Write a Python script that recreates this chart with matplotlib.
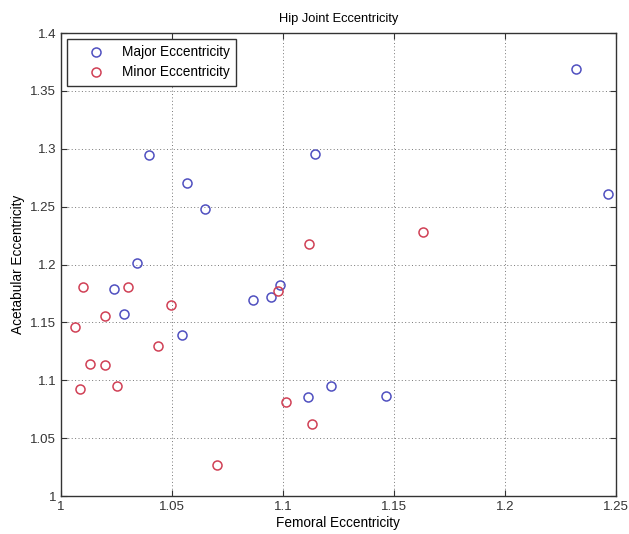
import matplotlib
matplotlib.use("Agg")
import matplotlib.pyplot as plt

plt.rcParams['font.family'] = ['Liberation Sans', 'DejaVu Sans']

major_x = [1.2322, 1.2466, 1.0396, 1.0567, 1.0648, 1.0342, 1.1146, 1.0239, 1.0285,
           1.0543, 1.0863, 1.0945, 1.0989, 1.1113, 1.1215, 1.1463]
major_y = [1.369, 1.261, 1.2946, 1.2705, 1.248, 1.2014, 1.2958, 1.1787, 1.157,
           1.1392, 1.1697, 1.1718, 1.1824, 1.0854, 1.0952, 1.0865]

minor_x = [1.1118, 1.1629, 1.0098, 1.0300, 1.0197, 1.0062, 1.0495, 1.0437, 1.0129,
           1.0197, 1.0084, 1.0251, 1.0705, 1.0978, 1.1014, 1.1131]
minor_y = [1.218, 1.2279, 1.1804, 1.1804, 1.1559, 1.1464, 1.1649, 1.130, 1.1139,
           1.113, 1.0923, 1.0952, 1.0272, 1.1775, 1.0816, 1.0621]

xticks = [1, 1.05, 1.1, 1.15, 1.2, 1.25]
xticklabels = ['1', '1.05', '1.1', '1.15', '1.2', '1.25']
yticks = [1, 1.05, 1.1, 1.15, 1.2, 1.25, 1.3, 1.35, 1.4]
yticklabels = ['1', '1.05', '1.1', '1.15', '1.2', '1.25', '1.3', '1.35', '1.4']

fig = plt.figure(figsize=(6.29, 5.34), dpi=100)
ax = fig.add_axes([0.097, 0.071, 0.882, 0.867])

ax.plot(major_x, major_y, 'o', mfc='none', mec='#5050c0', mew=1.1, ms=6.5,
        label='Major Eccentricity')
ax.plot(minor_x, minor_y, 'o', mfc='none', mec='#d04055', mew=1.1, ms=6.5,
        label='Minor Eccentricity')

ax.set_xlim(1, 1.25)
ax.set_ylim(1, 1.4)
ax.set_xticks(xticks)
ax.set_xticklabels(xticklabels)
ax.set_yticks(yticks)
ax.set_yticklabels(yticklabels)
ax.tick_params(direction='in', top=True, right=True, labelsize=9.5, length=4,
               colors='#333333')
for s in ax.spines.values():
    s.set_color('#333333')
    s.set_linewidth(1.0)
ax.grid(True, linestyle=(0, (1, 2.5)), color='#777777', linewidth=0.7)

ax.set_title('Hip Joint Eccentricity', fontsize=9.3, pad=8)
ax.set_xlabel('Femoral Eccentricity', fontsize=9.8, labelpad=2)
ax.set_ylabel('Acetabular Eccentricity', fontsize=9.8, labelpad=4)

leg = ax.legend(loc='upper left', fontsize=9.8, fancybox=False, framealpha=1,
                edgecolor='#333333', borderaxespad=0.45, handletextpad=0.15,
                handlelength=3.4, labelspacing=0.45, borderpad=0.45)
leg.get_frame().set_linewidth(1.0)

fig.savefig('out.png', dpi=100)
